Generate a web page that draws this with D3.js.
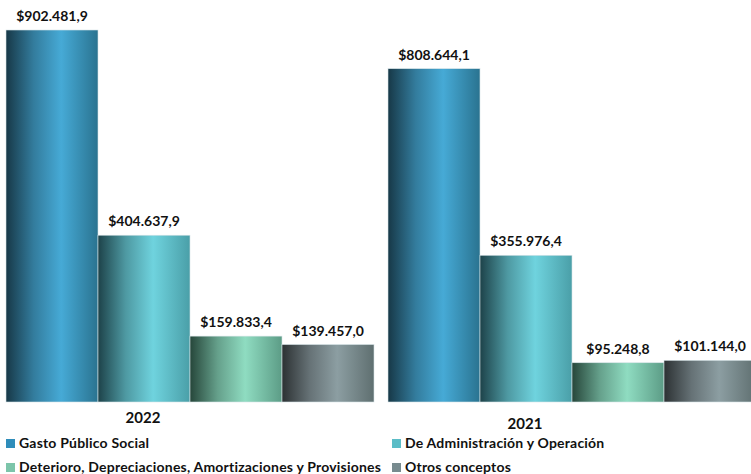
<!DOCTYPE html>
<html>
<head>
<meta charset="utf-8">
<script src="https://cdn.jsdelivr.net/npm/d3@7"></script>
<style>
  body { margin: 0; background: #fff; }
  svg { display: block; font-family: Lato, "Noto Sans", sans-serif; }
</style>
</head>
<body>
<svg id="chart" width="751" height="474"></svg>
<script>
const width = 751, height = 474;

// data
const years = ["2022", "2021"];
const series = ["Gasto Público Social", "De Administración y Operación",
  "Deterioro, Depreciaciones, Amortizaciones y Provisiones", "Otros conceptos"];
const values2022 = [902481.9, 404637.9, 159833.4, 139457.0];
const values2021 = [808644.1, 355976.4, 95248.8, 101144.0];
const valuesByYear = { "2022": values2022, "2021": values2021 };

// colours: [dark edge, highlight, right edge, legend swatch]
const palette = [
  ["#173847", "#46aad6", "#2a7390", "#2f8dba"],
  ["#1d4249", "#6fd3de", "#4a9fa8", "#5bbdc7"],
  ["#26463a", "#8fdcc1", "#5c9c86", "#7cc5aa"],
  ["#2c3133", "#8c9ea2", "#5f6f70", "#788b8f"]
];

const svg = d3.select("#chart");
const defs = svg.append("defs");

palette.forEach((c, i) => {
  const g = defs.append("linearGradient")
    .attr("id", "grad" + i)
    .attr("x1", "0%").attr("x2", "100%").attr("y1", "0%").attr("y2", "0%");
  g.append("stop").attr("offset", "0%").attr("stop-color", c[0]);
  g.append("stop").attr("offset", "30%").attr("stop-color", d3.interpolateRgb(c[0], c[1])(0.6));
  g.append("stop").attr("offset", "60%").attr("stop-color", c[1]);
  g.append("stop").attr("offset", "100%").attr("stop-color", c[2]);
});

const baseY = 402;
const x0 = d3.scaleBand().domain(years).range([6, 756]).paddingInner(14 / 382);
const x1 = d3.scaleBand().domain(d3.range(series.length)).range([0, x0.bandwidth()]);
const y = d3.scaleLinear().domain([0, 902481.9]).range([baseY, 30]);

const fmt = v => "$" + d3.format(",.1f")(v).replace(/,/g, "#").replace(".", ",").replace(/#/g, ".");

const groups = svg.append("g").selectAll("g")
  .data(years)
  .join("g")
  .attr("transform", d => `translate(${x0(d)},0)`);

groups.selectAll("rect")
  .data(d => valuesByYear[d].map((v, i) => ({ v, i })))
  .join("rect")
  .attr("x", d => x1(d.i))
  .attr("y", d => y(d.v))
  .attr("width", x1.bandwidth())
  .attr("height", d => baseY - y(d.v))
  .attr("fill", d => `url(#grad${d.i})`)
  .attr("stroke", "#d8e4e8")
  .attr("stroke-width", 0.6);

groups.selectAll("text.val")
  .data(d => valuesByYear[d].map((v, i) => ({ v, i })))
  .join("text")
  .attr("class", "val")
  .attr("x", d => x1(d.i) + x1.bandwidth() / 2)
  .attr("y", d => y(d.v) - 9)
  .attr("text-anchor", "middle")
  .attr("font-size", 14)
  .attr("font-weight", 700)
  .attr("fill", "#111")
  .text(d => fmt(d.v));

// category labels
const labelY = { "2022": 423, "2021": 429 };
svg.append("g").selectAll("text")
  .data(years)
  .join("text")
  .attr("x", d => x0(d) + x0.bandwidth() / 2 - 47)
  .attr("y", d => labelY[d])
  .attr("text-anchor", "middle")
  .attr("font-size", 15)
  .attr("font-weight", 700)
  .attr("fill", "#111")
  .text(d => d);

// legend
const legendPos = [[6, 439], [392, 439], [6, 463], [392, 463]];
const legend = svg.append("g").selectAll("g")
  .data(series)
  .join("g")
  .attr("transform", (d, i) => `translate(${legendPos[i][0]},${legendPos[i][1]})`);

legend.append("rect")
  .attr("width", 9).attr("height", 9)
  .attr("fill", (d, i) => palette[i][3]);

legend.append("text")
  .attr("x", 13)
  .attr("y", 8.5)
  .attr("font-size", 14)
  .attr("letter-spacing", 0.2)
  .attr("font-weight", 700)
  .attr("fill", "#111")
  .text(d => d);
</script>
</body>
</html>
